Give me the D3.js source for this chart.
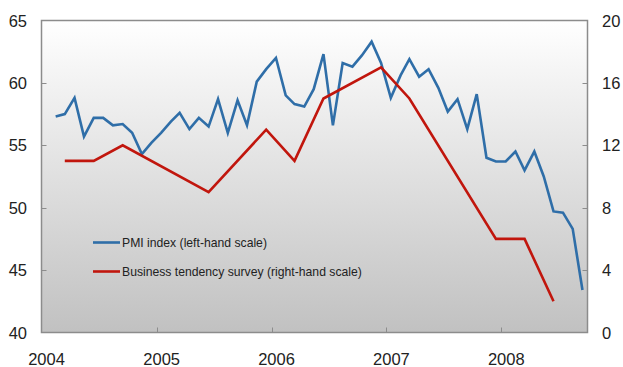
<!DOCTYPE html>
<html>
<head>
<meta charset="utf-8">
<script src="https://cdn.jsdelivr.net/npm/d3@7"></script>
<style>
  html, body { margin: 0; padding: 0; background: #ffffff; }
  svg { display: block; font-family: "Liberation Sans", Arial, Helvetica, sans-serif; }
</style>
</head>
<body>
<svg id="chart" width="623" height="367"></svg>
<script>
// PMI index, monthly, Feb 2004 – Sep 2008 (left-hand scale)
const pmiStart = "2004-02";
const pmiEnd = "2008-09";
const pmiValues = [
  57.3, 57.5, 58.8, 55.7, 57.2, 57.2, 56.6, 56.7, 56.0, 54.3,
  55.2, 56.0, 56.9, 57.6, 56.3, 57.2, 56.5, 58.7, 56.0, 58.6,
  56.6, 60.1, 61.1, 62.0, 59.0, 58.3, 58.1, 59.5, 62.3, 56.6,
  61.6, 61.3, 62.2, 63.3, 61.6, 58.8, 60.6, 61.9, 60.5, 61.1,
  59.6, 57.7, 58.7, 56.3, 59.1, 54.0, 53.7, 53.7, 54.5, 53.0,
  54.5, 52.5, 49.7, 49.6, 48.3, 43.4
];

// Business tendency survey, quarterly readings (right-hand scale)
const btsMonths = ["2004-03", "2004-06", "2004-09", "2005-06", "2005-12", "2006-03",
                   "2006-06", "2006-12", "2007-03", "2007-12", "2008-03", "2008-06"];
const btsValues = [11, 11, 12, 9, 13, 11, 15, 17, 15, 6, 6, 2];

// Axis ticks and legend text
const leftTicks = [40, 45, 50, 55, 60, 65];
const rightTicks = [0, 4, 8, 12, 16, 20];
const yearTicks = ["2004", "2005", "2006", "2007", "2008"];
const legendLabels = ["PMI index (left-hand scale)", "Business tendency survey (right-hand scale)"];

const parseMonth = d3.timeParse("%Y-%m");
const midMonth = s => d3.timeDay.offset(parseMonth(s), 14);

const pmiDates = d3.timeMonth.range(parseMonth(pmiStart), d3.timeMonth.offset(parseMonth(pmiEnd), 1))
  .map(d => d3.timeDay.offset(d, 14));
const pmi = pmiDates.map((d, i) => ({ date: d, value: pmiValues[i] }));
const bts = btsMonths.map((m, i) => ({ date: midMonth(m), value: btsValues[i] }));

const plot = { left: 41.5, right: 587.5, top: 20.5, bottom: 332.5 };
const colors = { pmi: "#2f6ea8", bts: "#c1160d", frame: "#8c8c8c", text: "#222222" };

const svg = d3.select("#chart");

const x = d3.scaleTime()
  .domain([new Date(2004, 0, 1), new Date(2008, 9, 1)])
  .range([plot.left, plot.right]);
const yLeft = d3.scaleLinear().domain([40, 65]).range([plot.bottom, plot.top]);
const yRight = d3.scaleLinear().domain([0, 20]).range([plot.bottom, plot.top]);

// Plot background: soft vertical gradient from white to grey
const defs = svg.append("defs");
const grad = defs.append("linearGradient")
  .attr("id", "bg").attr("x1", 0).attr("y1", 0).attr("x2", 0).attr("y2", 1);
grad.append("stop").attr("offset", "0%").attr("stop-color", "#ffffff");
grad.append("stop").attr("offset", "100%").attr("stop-color", "#c1c1c1");

svg.append("rect")
  .attr("x", plot.left).attr("y", plot.top)
  .attr("width", plot.right - plot.left).attr("height", plot.bottom - plot.top)
  .attr("fill", "url(#bg)");

// Inside tick marks
const tickLen = 5;
const ticks = svg.append("g").attr("stroke", colors.frame).attr("stroke-width", 1);
ticks.selectAll("line.l").data(leftTicks.slice(1, -1)).join("line")
  .attr("x1", plot.left).attr("x2", plot.left + tickLen)
  .attr("y1", d => Math.round(yLeft(d)) + 0.5).attr("y2", d => Math.round(yLeft(d)) + 0.5);
ticks.selectAll("line.r").data(rightTicks.slice(1, -1)).join("line")
  .attr("x1", plot.right - tickLen).attr("x2", plot.right)
  .attr("y1", d => Math.round(yRight(d)) + 0.5).attr("y2", d => Math.round(yRight(d)) + 0.5);
ticks.selectAll("line.b").data(yearTicks.slice(1)).join("line")
  .attr("x1", d => Math.round(x(new Date(+d, 0, 1))) + 0.5)
  .attr("x2", d => Math.round(x(new Date(+d, 0, 1))) + 0.5)
  .attr("y1", plot.bottom - tickLen).attr("y2", plot.bottom);

// Frame
svg.append("rect")
  .attr("x", plot.left).attr("y", plot.top)
  .attr("width", plot.right - plot.left).attr("height", plot.bottom - plot.top)
  .attr("fill", "none").attr("stroke", colors.frame).attr("stroke-width", 1.5);

// Tick labels
const labelFont = 16.5;
svg.append("g").selectAll("text").data(leftTicks).join("text")
  .attr("x", 27).attr("y", d => yLeft(d) + 6)
  .attr("text-anchor", "end").attr("font-size", labelFont).attr("fill", colors.text)
  .text(d => d);
svg.append("g").selectAll("text").data(rightTicks).join("text")
  .attr("x", 602).attr("y", d => yRight(d) + 6)
  .attr("text-anchor", "start").attr("font-size", labelFont).attr("fill", colors.text)
  .text(d => d);
svg.append("g").selectAll("text").data(yearTicks).join("text")
  .attr("x", d => x(new Date(+d, 0, 1)) + 5).attr("y", 365)
  .attr("text-anchor", "middle").attr("font-size", labelFont).attr("fill", colors.text)
  .text(d => d);

// Series lines
const linePmi = d3.line().x(d => x(d.date)).y(d => yLeft(d.value));
const lineBts = d3.line().x(d => x(d.date)).y(d => yRight(d.value));

svg.append("path").datum(pmi)
  .attr("d", linePmi).attr("fill", "none")
  .attr("stroke", colors.pmi).attr("stroke-width", 2.6).attr("stroke-linejoin", "miter");
svg.append("path").datum(bts)
  .attr("d", lineBts).attr("fill", "none")
  .attr("stroke", colors.bts).attr("stroke-width", 2.6).attr("stroke-linejoin", "miter");

// Legend
const legend = svg.append("g");
const legendRows = [
  { label: legendLabels[0], color: colors.pmi, y: 242.5 },
  { label: legendLabels[1], color: colors.bts, y: 271.5 }
];
legend.selectAll("line").data(legendRows).join("line")
  .attr("x1", 93).attr("x2", 120)
  .attr("y1", d => d.y).attr("y2", d => d.y)
  .attr("stroke", d => d.color).attr("stroke-width", 2.6);
legend.selectAll("text").data(legendRows).join("text")
  .attr("x", 122).attr("y", d => d.y + 4.5)
  .attr("font-size", 12.2).attr("fill", colors.text)
  .text(d => d.label);
</script>
</body>
</html>
